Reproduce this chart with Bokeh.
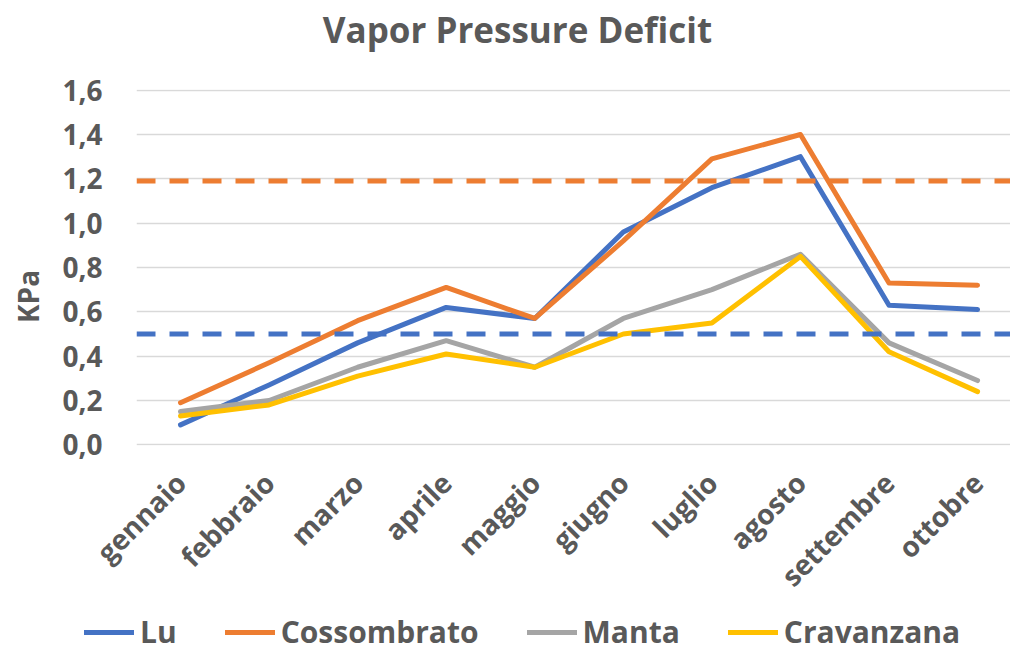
from math import pi
from bokeh.plotting import figure
from bokeh.layouts import column, row
from bokeh.models import (Range1d, FixedTicker, CustomJSTickFormatter, Span, Legend,
                          LegendItem, Label)
from bokeh.embed import file_html
from bokeh.resources import INLINE

months = ["gennaio", "febbraio", "marzo", "aprile", "maggio", "giugno",
          "luglio", "agosto", "settembre", "ottobre"]
lu = [0.09, 0.27, 0.46, 0.62, 0.57, 0.96, 1.16, 1.30, 0.63, 0.61]
cossombrato = [0.19, 0.37, 0.56, 0.71, 0.57, 0.92, 1.29, 1.40, 0.73, 0.72]
manta = [0.15, 0.20, 0.35, 0.47, 0.35, 0.57, 0.70, 0.86, 0.46, 0.29]
cravanzana = [0.13, 0.18, 0.31, 0.41, 0.35, 0.50, 0.55, 0.85, 0.42, 0.24]
series_names = ["Lu", "Cossombrato", "Manta", "Cravanzana"]
lu_threshold = 0.5
cossombrato_threshold = 1.19
y_ticks = [0.0, 0.2, 0.4, 0.6, 0.8, 1.0, 1.2, 1.4, 1.6]

colors = ["#4472C4", "#ED7D31", "#A5A5A5", "#FFC000"]
TEXT = "#595959"
FONT = "Open Sans"
W = 1010
KW = 50

x = list(range(len(months)))
all_series = [lu, cossombrato, manta, cravanzana]


def bare(fig):
    fig.outline_line_color = None
    fig.background_fill_color = "white"
    fig.border_fill_color = "white"
    fig.frame_align = False
    return fig


# ---- title strip ----
TH = 56
tfig = bare(figure(width=W, height=TH, output_backend="svg", toolbar_location=None,
                   x_range=Range1d(0, W), y_range=Range1d(0, TH),
                   x_axis_type=None, y_axis_type=None, min_border=0))
tfig.grid.visible = False
tfig.add_layout(Label(x=517, y=27.5, text="Vapor Pressure Deficit", text_align="center",
                      text_baseline="middle", text_font=FONT, text_font_size="35px",
                      text_font_style="bold", text_color=TEXT))

# ---- y-axis title strip ----
MH = 555
kfig = bare(figure(width=KW, height=MH, output_backend="svg", toolbar_location=None,
                   x_range=Range1d(0, KW), y_range=Range1d(0, MH),
                   x_axis_type=None, y_axis_type=None, min_border=0))
kfig.grid.visible = False
kfig.add_layout(Label(x=27, y=MH - 240, text="KPa", angle=pi / 2, text_align="center",
                      text_baseline="middle", text_font=FONT, text_font_size="28px",
                      text_font_style="bold", text_color=TEXT))

# ---- main chart ----
p = bare(figure(width=W - KW, height=MH, output_backend="svg", toolbar_location=None,
                x_range=Range1d(-0.497, 9.372), y_range=Range1d(-0.003, 1.603),
                min_border_left=86, min_border_right=0, min_border_top=33,
                min_border_bottom=166))

p.xaxis.ticker = FixedTicker(ticks=x)
p.xaxis.major_label_overrides = {i: m for i, m in enumerate(months)}
p.xaxis.major_label_orientation = pi / 4
p.yaxis.ticker = FixedTicker(ticks=y_ticks)
p.yaxis.formatter = CustomJSTickFormatter(code="return tick.toFixed(1).replace('.', ',');")
for ax in (p.xaxis[0], p.yaxis[0]):
    ax.axis_line_color = None
    ax.major_tick_line_color = None
    ax.minor_tick_line_color = None
    ax.major_label_text_font = FONT
    ax.major_label_text_font_size = "28px"
    ax.major_label_text_font_style = "bold"
    ax.major_label_text_color = TEXT
p.xaxis.major_label_standoff = 26
p.yaxis.major_label_standoff = 28

p.xgrid.grid_line_color = None
p.ygrid.ticker = FixedTicker(ticks=y_ticks)
p.ygrid.grid_line_color = "#D9D9D9"
p.ygrid.grid_line_width = 1.5

p.add_layout(Span(location=cossombrato_threshold, dimension="width", line_color=colors[1],
                  line_width=5, line_dash="19 14"))
p.add_layout(Span(location=lu_threshold, dimension="width", line_color=colors[0],
                  line_width=5, line_dash="19 14"))

for vals, c in zip(all_series, colors):
    p.line(x, vals, line_color=c, line_width=5, line_cap="round", line_join="round")

# ---- legend strip ----
LH = 41
lfig = bare(figure(width=W, height=LH, output_backend="svg", toolbar_location=None,
                   x_range=Range1d(0, 1), y_range=Range1d(0, 1),
                   x_axis_type=None, y_axis_type=None, min_border=0))
lfig.grid.visible = False
items = []
for name, vals, c in zip(series_names, all_series, colors):
    r = lfig.line(x, vals, line_color=c, line_width=5, line_cap="round", visible=False)
    items.append(LegendItem(label=name, renderers=[r]))
legend = Legend(items=items, orientation="horizontal", location=(84, 0),
                label_text_font=FONT, label_text_font_size="30px",
                label_text_font_style="bold", label_text_color=TEXT,
                glyph_width=50, glyph_height=26, label_height=26, label_standoff=6,
                spacing=48, padding=0, margin=0, border_line_color=None,
                background_fill_alpha=0, inactive_fill_alpha=0)
lfig.add_layout(legend)

layout = column(tfig, row(kfig, p, spacing=0), lfig, spacing=0)
open("out.html", "w").write(file_html(layout, INLINE))
